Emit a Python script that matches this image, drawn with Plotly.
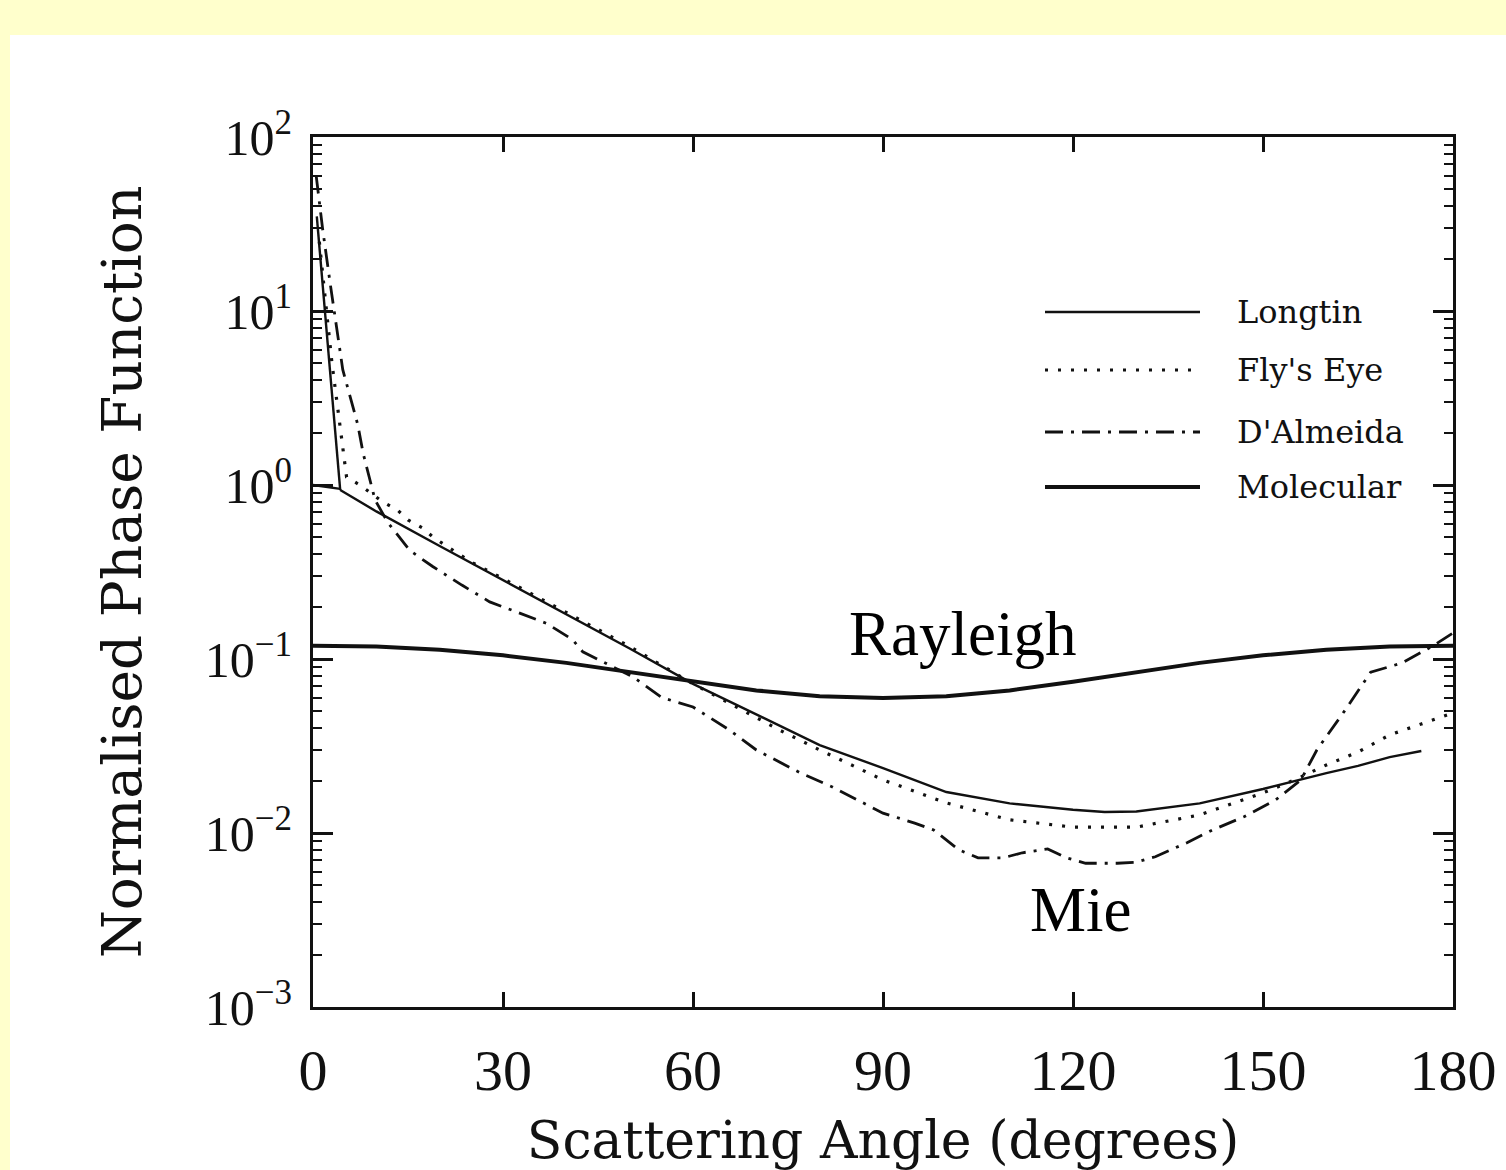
import plotly.graph_objects as go

# ---------------- data ----------------
longtin_angle = [4.3, 10, 20, 30, 40, 50, 60, 70, 80, 90, 100, 110, 120, 125, 130, 140, 150, 160, 165, 170, 175]
longtin_value = [0.935, 0.705, 0.446, 0.284, 0.18, 0.115, 0.072, 0.048, 0.032, 0.0236, 0.0172, 0.0148,
                 0.0136, 0.0132, 0.0133, 0.0148, 0.0179, 0.0221, 0.0243, 0.0273, 0.0296]
longtin_peak_angle = [0.6, 4.3]
longtin_peak_value = [35, 0.935]
longtin_shelf_angle = [0, 4.3]
longtin_shelf_value = [1.0, 0.95]

flys_angle = [1, 3, 5.3, 7.4, 11, 13.3, 15, 17.3, 19, 25, 30, 40, 50, 60, 73.7, 80, 90, 100, 110, 120,
              130, 140, 150, 155, 160, 165, 170, 175, 180]
flys_value = [25, 5, 1.11, 1.0, 0.8, 0.72, 0.63, 0.566, 0.50, 0.36, 0.29, 0.185, 0.118, 0.072, 0.039,
              0.030, 0.0202, 0.0149, 0.0119, 0.0108, 0.0108, 0.0127, 0.017, 0.0202, 0.0246, 0.0292,
              0.0366, 0.0423, 0.049]

dalmeida_angle = [0.5, 1.5, 2.7, 4.7, 7.1, 7.9, 9.8, 11.8, 15.3, 18.9, 23.5, 27.9, 32.2, 36.9, 41, 42.6,
                  50.5, 55.1, 60, 65.8, 70, 77, 82, 87, 90, 95, 98, 102, 105, 109, 112, 116, 119, 122,
                  127, 130, 133, 138, 142, 147, 152, 156, 158.5, 163, 167, 172, 177, 180]
dalmeida_value = [60, 30, 14.5, 4.6, 2.2, 1.53, 0.82, 0.61, 0.42, 0.34, 0.266, 0.213, 0.186, 0.16, 0.129,
                  0.11, 0.079, 0.06, 0.053, 0.039, 0.030, 0.0221, 0.0184, 0.0149, 0.013, 0.0114, 0.0104,
                  0.0080, 0.0072, 0.0072, 0.0077, 0.0081, 0.0072, 0.0067, 0.0067, 0.0068, 0.0073,
                  0.0088, 0.0104, 0.0124, 0.0155, 0.0202, 0.030, 0.051, 0.084, 0.095, 0.12, 0.141]

molecular_angle = [0, 10, 20, 30, 40, 50, 60, 70, 80, 90, 100, 110, 120, 130, 140, 150, 160, 170, 180]
molecular_value = [0.119, 0.118, 0.113, 0.105, 0.095, 0.084, 0.074, 0.066, 0.061, 0.0597, 0.061, 0.066,
                   0.074, 0.084, 0.095, 0.105, 0.113, 0.118, 0.119]

x_tick_vals = [0, 30, 60, 90, 120, 150, 180]
y_tick_vals = [1e-3, 1e-2, 1e-1, 1e0, 1e1, 1e2]
y_tick_text = ["10<sup>−3</sup>", "10<sup>−2</sup>", "10<sup>−1</sup>", "10<sup>0</sup>",
               "10<sup>1</sup>", "10<sup>2</sup>"]
y_minor_vals = [m * 10 ** e for e in range(-3, 2) for m in range(2, 10)]

legend_names = ["Longtin", "Fly's Eye", "D'Almeida", "Molecular"]

# ---------------- styles ----------------
INK = "#111111"
thin = dict(color=INK, width=2.4)
dotted = dict(color=INK, width=3.2, dash="3px,10px")
dashdot = dict(color=INK, width=2.8, dash="18px,8px,3px,8px")
thick = dict(color=INK, width=4)

fig = go.Figure()
fig.add_trace(go.Scatter(x=longtin_angle, y=longtin_value, mode="lines", line=thin, name="Longtin"))
fig.add_trace(go.Scatter(x=longtin_peak_angle, y=longtin_peak_value, mode="lines", line=thin,
                         name="Longtin", showlegend=False))
fig.add_trace(go.Scatter(x=longtin_shelf_angle, y=longtin_shelf_value, mode="lines", line=thin,
                         name="Longtin", showlegend=False))
fig.add_trace(go.Scatter(x=flys_angle, y=flys_value, mode="lines", line=dotted, name="Fly's Eye"))
fig.add_trace(go.Scatter(x=dalmeida_angle, y=dalmeida_value, mode="lines", line=dashdot, name="D'Almeida"))
fig.add_trace(go.Scatter(x=molecular_angle, y=molecular_value, mode="lines", line=thick, name="Molecular"))

W, H = 1506, 1170
L, R, T, B = 313, 1453, 137, 1007
pw, ph = R - L, B - T


def px(xp):
    return (xp - L) / pw


def py(yp):
    return (B - yp) / ph


shapes = [
    # white inner panel over the pale-yellow page
    dict(type="rect", xref="paper", yref="paper", x0=px(10), x1=px(W + 5), y0=py(H + 5), y1=py(35),
         fillcolor="white", line=dict(width=0), layer="below"),
]
annotations = []

# hand-drawn style legend
legend_styles = [thin, dotted, dashdot, thick]
legend_rows = [312, 370, 432, 487]
for name, st, row in zip(legend_names, legend_styles, legend_rows):
    shapes.append(dict(type="line", xref="paper", yref="paper", x0=px(1045), x1=px(1200),
                       y0=py(row), y1=py(row), line=st))
    annotations.append(dict(xref="paper", yref="paper", x=px(1235), y=py(row), xanchor="left",
                            yanchor="middle", text=name, showarrow=False,
                            font=dict(family="DejaVu Serif", size=32, color=INK)))

annotations.append(dict(xref="paper", yref="paper", x=px(962), y=py(634), text="Rayleigh",
                        showarrow=False, xanchor="center", yanchor="middle",
                        font=dict(family="Liberation Serif", size=63, color="black")))
annotations.append(dict(xref="paper", yref="paper", x=px(1080), y=py(910), text="Mie",
                        showarrow=False, xanchor="center", yanchor="middle",
                        font=dict(family="Liberation Serif", size=63, color="black")))

fig.update_layout(
    width=W, height=H,
    margin=dict(l=L, r=W - R, t=T, b=H - B, autoexpand=False),
    paper_bgcolor="#FFFFCC",
    plot_bgcolor="white",
    showlegend=False,
    shapes=shapes,
    annotations=annotations,
    font=dict(family="Liberation Serif", color=INK),
)

fig.update_xaxes(
    range=[0, 180], tickvals=x_tick_vals, ticks="inside", ticklen=15, tickwidth=2.5, tickcolor=INK,
    showline=True, linewidth=3, linecolor=INK, mirror="allticks", showgrid=False, zeroline=False,
    automargin=False,
    tickfont=dict(family="Liberation Serif", size=58, color=INK), ticklabelstandoff=10,
    title=dict(text="Scattering Angle (degrees)", standoff=30,
               font=dict(family="DejaVu Serif", size=52, color=INK)),
)
fig.update_yaxes(
    type="log", range=[-3, 2], tickvals=y_tick_vals, ticktext=y_tick_text,
    ticks="inside", ticklen=20, tickwidth=2.5, tickcolor=INK,
    minor=dict(tickvals=y_minor_vals, ticks="inside", ticklen=9, tickwidth=2, tickcolor=INK, showgrid=False),
    showline=True, linewidth=3, linecolor=INK, mirror="allticks", showgrid=False, zeroline=False,
    automargin=False,
    tickfont=dict(family="Liberation Serif", size=50, color=INK), ticklabelstandoff=8,
    title=dict(text="Normalised Phase Function", standoff=46,
               font=dict(family="DejaVu Serif", size=55, color=INK)),
)

fig.write_html("out.html")
